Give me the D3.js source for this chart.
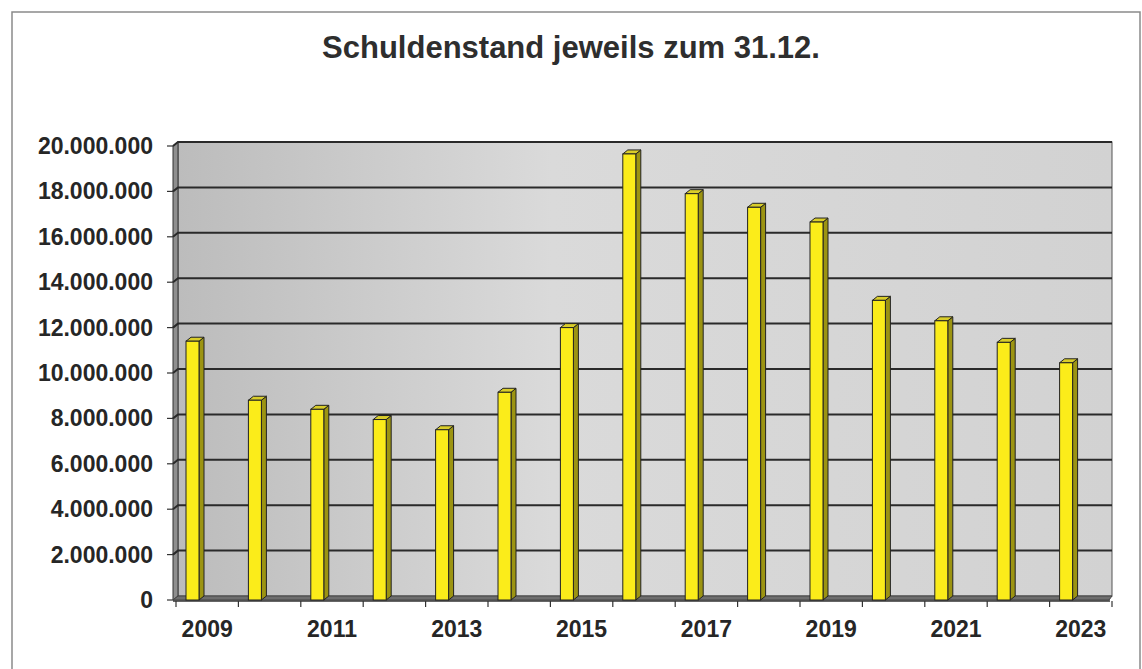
<!DOCTYPE html>
<html>
<head>
<meta charset="utf-8">
<script src="https://cdn.jsdelivr.net/npm/d3@7"></script>
<style>
  body { margin: 0; background: #fff; }
  svg { display: block; font-family: Arial, "Liberation Sans", sans-serif; }
</style>
</head>
<body>
<svg id="chart" width="1142" height="669"></svg>
<script>
// data
const years = ["2009","2010","2011","2012","2013","2014","2015","2016","2017","2018","2019","2020","2021","2022","2023"];
const debt = [11400000, 8800000, 8400000, 7950000, 7500000, 9150000, 12000000, 19650000, 17900000, 17300000, 16650000, 13200000, 12300000, 11350000, 10450000];
const yTicks = [0, 2000000, 4000000, 6000000, 8000000, 10000000, 12000000, 14000000, 16000000, 18000000, 20000000];
const xLabels = ["2009","2011","2013","2015","2017","2019","2021","2023"];
const title = "Schuldenstand jeweils zum 31.12.";

let svg = d3.select("#chart");

// german number format
let de = d3.formatLocale({decimal: ",", thousands: ".", grouping: [3], currency: ["", " €"]});
let fmt = de.format(",d");

let plotLeft = 176, plotRight = 1112, plotBottom = 600, plotTop = 146;
let depth = 5, rise = 4;

let xMap = d3.scaleBand().domain(years).range([plotLeft, plotRight]).padding(0);
let yMap = d3.scaleLinear().domain([0, 20000000]).range([plotBottom, plotTop]);

// outer frame
svg.append("path")
    .attr("d", "M12,680 L12,12 L1140,12 L1140,680")
    .attr("fill", "none")
    .attr("stroke", "#8a8a8a")
    .attr("stroke-width", 1.5);

// title
svg.append("text")
    .attr("x", 571).attr("y", 58)
    .attr("text-anchor", "middle")
    .attr("font-size", 31).attr("font-weight", "bold")
    .attr("fill", "#2e2e2e")
    .text(title);

// back wall gradient
let defs = svg.append("defs");
let grad = defs.append("linearGradient").attr("id", "wall");
grad.append("stop").attr("offset", "0%").attr("stop-color", "#bcbcbc");
grad.append("stop").attr("offset", "40%").attr("stop-color", "#dadada");
grad.append("stop").attr("offset", "100%").attr("stop-color", "#d2d2d2");

// back wall
svg.append("rect")
    .attr("x", plotLeft + 2).attr("y", plotTop - rise)
    .attr("width", plotRight - plotLeft - 2).attr("height", plotBottom - plotTop)
    .attr("fill", "url(#wall)")
    .attr("stroke", "#555").attr("stroke-width", 1);

// left wall
svg.append("path")
    .attr("d", `M${plotLeft - 3},${plotTop} L${plotLeft + 2},${plotTop - rise} L${plotLeft + 2},${plotBottom - rise} L${plotLeft - 3},${plotBottom} Z`)
    .attr("fill", "#8f8f8f").attr("stroke", "#333").attr("stroke-width", 1);

// floor
svg.append("path")
    .attr("d", `M${plotLeft - 3},${plotBottom} L${plotLeft + 2},${plotBottom - rise} L${plotRight},${plotBottom - rise} L${plotRight - 3},${plotBottom} Z`)
    .attr("fill", "#6e6e6e").attr("stroke", "#444").attr("stroke-width", 1);

// gridlines on wall
svg.append("g").selectAll("path").data(yTicks.slice(1)).enter().append("path")
    .attr("d", d => `M${plotLeft - 3},${yMap(d)} L${plotLeft + 2},${yMap(d) - rise} L${plotRight},${yMap(d) - rise}`)
    .attr("fill", "none")
    .attr("stroke", "#2a2a2a").attr("stroke-width", 2);

// y axis ticks + labels
let yAxis = svg.append("g");
yAxis.selectAll("line").data(yTicks).enter().append("line")
    .attr("x1", plotLeft - 9).attr("x2", plotLeft - 3)
    .attr("y1", d => yMap(d)).attr("y2", d => yMap(d))
    .attr("stroke", "#333").attr("stroke-width", 1.2);
yAxis.selectAll("text").data(yTicks).enter().append("text")
    .attr("x", 153).attr("y", d => yMap(d) + 8)
    .attr("text-anchor", "end")
    .attr("font-size", 23).attr("font-weight", "bold")
    .attr("fill", "#262626")
    .text(d => fmt(d));

// x axis line, ticks, labels
svg.append("line")
    .attr("x1", plotLeft - 3).attr("x2", plotRight - 2)
    .attr("y1", plotBottom + 1).attr("y2", plotBottom + 1)
    .attr("stroke", "#333").attr("stroke-width", 1.5);
svg.append("g").selectAll("line").data(years.concat(["end"])).enter().append("line")
    .attr("x1", (d, i) => plotLeft + i * xMap.bandwidth())
    .attr("x2", (d, i) => plotLeft + i * xMap.bandwidth())
    .attr("y1", plotBottom + 1).attr("y2", plotBottom + 7)
    .attr("stroke", "#333").attr("stroke-width", 1.2);
svg.append("g").selectAll("text").data(xLabels).enter().append("text")
    .attr("x", d => xMap(d) + xMap.bandwidth() / 2)
    .attr("y", 637)
    .attr("text-anchor", "middle")
    .attr("font-size", 23).attr("font-weight", "bold")
    .attr("fill", "#262626")
    .text(d => d);

// bars
let bw = 13;
let bars = svg.append("g").selectAll("g").data(years).enter().append("g");
let bx = d => xMap(d) + 10;
let by = (d, i) => yMap(debt[i]);

bars.append("path") // side face
    .attr("d", (d, i) => `M${bx(d) + bw},${by(d, i)} L${bx(d) + bw + depth},${by(d, i) - rise} L${bx(d) + bw + depth},${plotBottom - rise} L${bx(d) + bw},${plotBottom} Z`)
    .attr("fill", "#9c9412").attr("stroke", "#222").attr("stroke-width", 1);
bars.append("path") // top face
    .attr("d", (d, i) => `M${bx(d)},${by(d, i)} L${bx(d) + depth},${by(d, i) - rise} L${bx(d) + bw + depth},${by(d, i) - rise} L${bx(d) + bw},${by(d, i)} Z`)
    .attr("fill", "#d9cd2a").attr("stroke", "#222").attr("stroke-width", 1);
bars.append("rect") // front face
    .attr("x", d => bx(d)).attr("y", (d, i) => by(d, i))
    .attr("width", bw).attr("height", (d, i) => plotBottom - by(d, i))
    .attr("fill", "#fbec1a").attr("stroke", "#222").attr("stroke-width", 1);
</script>
</body>
</html>
